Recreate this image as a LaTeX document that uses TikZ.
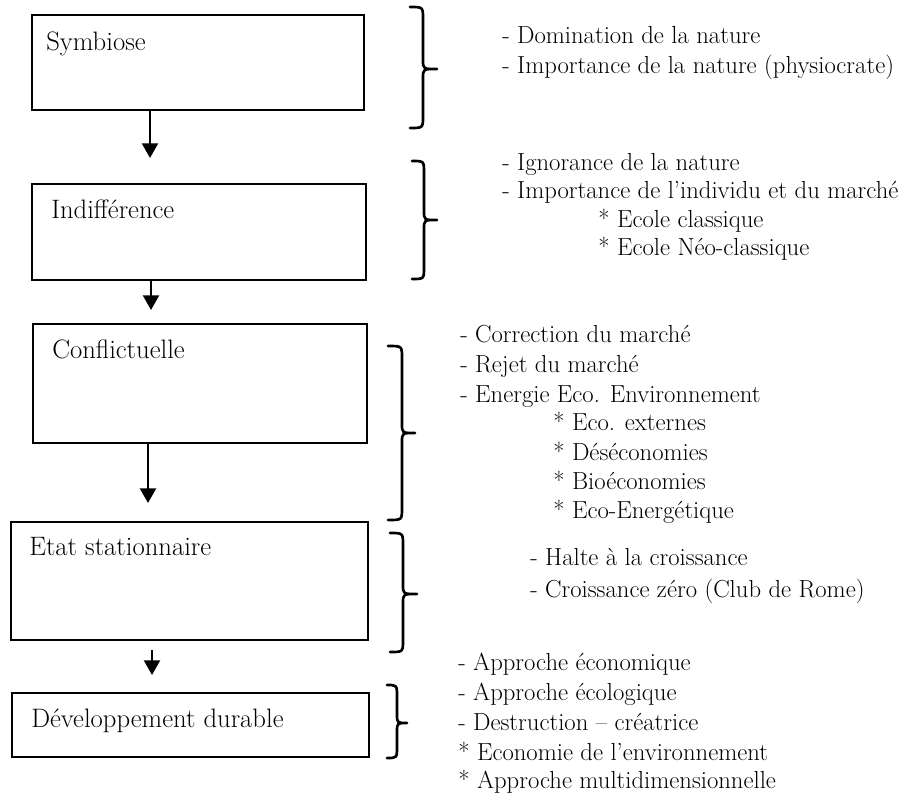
\documentclass[tikz,border=0pt]{standalone}
\usetikzlibrary{arrows.meta}
\newcommand\bracepath[6]{% xl xv xt ytop ytip ybot
  \draw[brc] (#1,#4) .. controls (#2,#4) .. (#2,#4+12) -- (#2,#5-9)
    .. controls (#2,#5) .. (#3,#5) .. controls (#2,#5) .. (#2,#5+9)
    -- (#2,#6-12) .. controls (#2,#6) .. (#1,#6);}
\begin{document}
\begin{tikzpicture}[x=0.75pt,y=-0.75pt,
  box/.style={draw, line width=1.9pt, inner sep=0pt},
  txt/.style={anchor=base west, inner sep=0pt, font=\fontsize{18.5}{22}\selectfont},
  lbl/.style={anchor=base west, inner sep=0pt, font=\fontsize{20}{24}\selectfont},
  arr/.style={line width=1.6pt, -{Triangle[width=12pt,length=11pt]}},
  brc/.style={line width=2pt, line cap=round, line join=round}]
\useasboundingbox (0,0) rectangle (909,796);

% boxes
\node[box, minimum width=332*0.75pt, minimum height=95*0.75pt] (b1) at (198,62.5) {};
\node[box, minimum width=334*0.75pt, minimum height=96*0.75pt] (b2) at (199,232) {};
\node[box, minimum width=334*0.75pt, minimum height=119*0.75pt] (b3) at (200,383.5) {};
\node[box, minimum width=357*0.75pt, minimum height=118*0.75pt] (b4) at (189.5,581) {};
\node[box, minimum width=357*0.75pt, minimum height=64*0.75pt] (b5) at (190.5,725) {};

% box labels
\node[lbl] (l1) at (46,50) {Symbiose};
\node[lbl] (l2) at (51,218) {Indifférence};
\node[lbl] (l3) at (52,358) {Conflictuelle};
\node[lbl] (l4) at (29,555) {Etat stationnaire};
\node[lbl] (l5) at (31,727) {Développement durable};

% arrows
\coordinate (a1) at (150,158);
\coordinate (a2) at (151,310);
\coordinate (a3) at (148,503);
\coordinate (a4s) at (152,650);
\coordinate (a4) at (152,675);
\draw[arr] (b1.south -| a1) -- (a1);
\draw[arr] (b2.south -| a2) -- (a2);
\draw[arr] (b3.south -| a3) -- (a3);
\draw[arr] (a4s) -- (a4);

% braces
\bracepath{410}{423}{437}{7}{69}{128}
\bracepath{412}{424}{437}{161}{220}{279}
\bracepath{388}{402}{415}{346}{433}{520}
\bracepath{390}{403}{417}{533}{594}{652}
\bracepath{387}{397}{407}{685}{723}{758}

% group 1
\node[txt] (t11) at (502,43) {- Domination de la nature};
\node[txt] (t12) at (502,73) {- Importance de la nature (physiocrate)};
% group 2
\node[txt] (t21) at (502,170) {- Ignorance de la nature};
\node[txt] (t22) at (502,198) {- Importance de l’individu et du marché};
\node[txt] (t23) at (598,227) {* Ecole classique};
\node[txt] (t24) at (598,255) {* Ecole Néo-classique};
% group 3
\node[txt] (t31) at (460,342) {- Correction du marché};
\node[txt] (t32) at (460,372) {- Rejet du marché};
\node[txt] (t33) at (460,402) {- Energie Eco. Environnement};
\node[txt] (t34) at (553,430) {* Eco. externes};
\node[txt] (t35) at (553,460) {* Déséconomies};
\node[txt] (t36) at (553,489) {* Bioéconomies};
\node[txt] (t37) at (553,518) {* Eco-Energétique};
% group 4
\node[txt] (t41) at (530,565) {- Halte à la croissance};
\node[txt] (t42) at (530,597) {- Croissance zéro (Club de Rome)};
% group 5
\node[txt] (t51) at (458,670) {- Approche économique};
\node[txt] (t52) at (458,700) {- Approche écologique};
\node[txt] (t53) at (458,730) {- Destruction – créatrice};
\node[txt] (t54) at (458,760) {* Economie de l’environnement};
\node[txt] (t55) at (458,788) {* Approche multidimensionnelle};
\end{tikzpicture}
\end{document}
